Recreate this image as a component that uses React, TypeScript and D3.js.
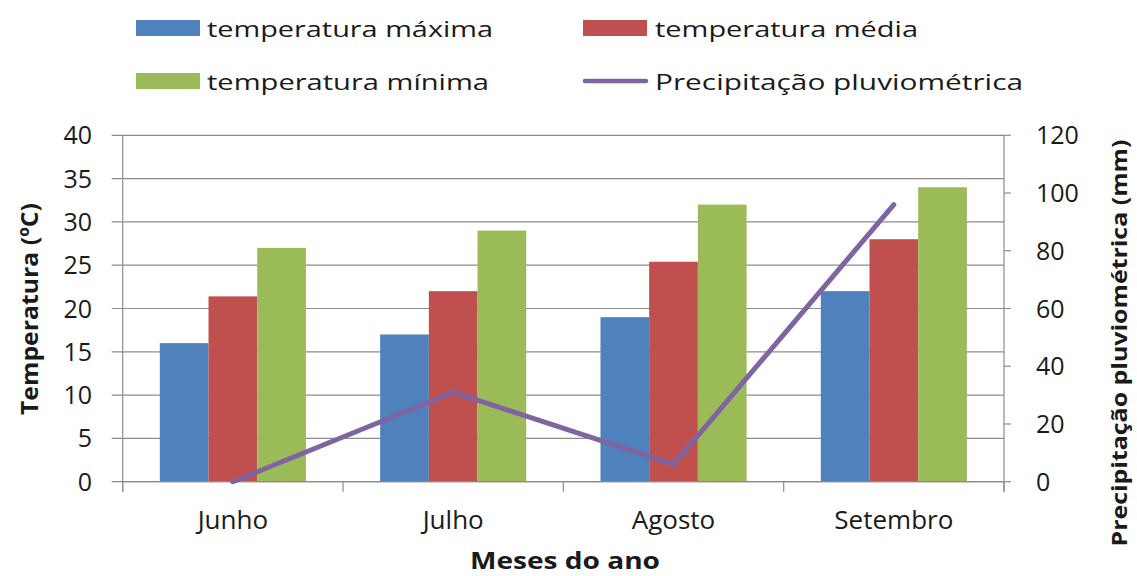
import React from "react";
import * as d3 from "d3";

const months = ["Junho", "Julho", "Agosto", "Setembro"];
const seriesNames = ["temperatura máxima", "temperatura média", "temperatura mínima"];
const tempMax = [16, 17, 19, 22];
const tempMed = [21.4, 22, 25.4, 28];
const tempMin = [27, 29, 32, 34];
const precip = [0, 31, 6, 96];
const lineName = "Precipitação pluviométrica";
const leftTicks = [0, 5, 10, 15, 20, 25, 30, 35, 40];
const rightTicks = [0, 20, 40, 60, 80, 100, 120];

const colors = ["#4F81BD", "#C0504D", "#9BBB59"];
const lineColor = "#8064A2";
const gridColor = "#8C8C8C";
const FONT = "'Open Sans', 'Noto Sans', sans-serif";

const W = 1137;
const H = 576;
const left = 122.7;
const right = 1004;
const top = 135.3;
const bottom = 481.7;

export default function App() {
  const x0 = d3
    .scaleBand<string>()
    .domain(months)
    .range([left, right])
    .paddingInner(0.337)
    .paddingOuter(0.1685);
  const x1 = d3
    .scaleBand<string>()
    .domain(seriesNames)
    .range([0, x0.bandwidth()]);
  const yL = d3.scaleLinear().domain([0, 40]).range([bottom, top]);
  const yR = d3.scaleLinear().domain([0, 120]).range([bottom, top]);
  const series = [tempMax, tempMed, tempMin];

  const step = x0.step();
  const line = d3
    .line<number>()
    .x((_, i) => (x0(months[i]) as number) + x0.bandwidth() / 2)
    .y((d) => yR(d));

  const legendItems = [
    { name: seriesNames[0], type: "rect", color: colors[0], sx: 136, tx: 207, row: 0, len: 286 },
    { name: seriesNames[1], type: "rect", color: colors[1], sx: 583, tx: 655, row: 0, len: 263 },
    { name: seriesNames[2], type: "rect", color: colors[2], sx: 136, tx: 207, row: 1, len: 282 },
    { name: lineName, type: "line", color: lineColor, sx: 583, tx: 655, row: 1, len: 368 },
  ];
  const rowY = [28, 81];

  return (
    <svg
      width={W}
      height={H}
      style={{ position: "absolute", left: 0, top: 0, background: "#fff" }}
      fontFamily={FONT}
    >
      <rect x={0} y={0} width={W} height={H} fill="#fff" />
      {leftTicks.map((t) => (
        <line
          key={"g" + t}
          x1={left - 11}
          x2={right}
          y1={yL(t)}
          y2={yL(t)}
          stroke={gridColor}
          strokeWidth={1.2}
        />
      ))}
      {rightTicks.map((t) => (
        <line
          key={"rt" + t}
          x1={right}
          x2={right + 7}
          y1={yR(t)}
          y2={yR(t)}
          stroke={gridColor}
          strokeWidth={1.2}
        />
      ))}
      {months.map((m, i) => (
        <g key={m}>
          {series.map((s, j) => (
            <rect
              key={j}
              x={(x0(m) as number) + (x1(seriesNames[j]) as number)}
              y={yL(s[i])}
              width={x1.bandwidth()}
              height={bottom - yL(s[i])}
              fill={colors[j]}
            />
          ))}
        </g>
      ))}
      <line x1={left} x2={left} y1={top} y2={bottom + 10} stroke={gridColor} strokeWidth={1.2} />
      <line x1={right} x2={right} y1={top} y2={bottom + 10} stroke={gridColor} strokeWidth={1.2} />
      <line x1={left} x2={right} y1={bottom} y2={bottom} stroke={gridColor} strokeWidth={1.2} />
      {d3.range(months.length + 1).map((k) => (
        <line
          key={"ct" + k}
          x1={left + k * step}
          x2={left + k * step}
          y1={bottom}
          y2={bottom + 10}
          stroke={gridColor}
          strokeWidth={1.2}
        />
      ))}
      <path
        d={line(precip) || ""}
        fill="none"
        stroke={lineColor}
        strokeWidth={5}
        strokeLinejoin="round"
        strokeLinecap="round"
      />
      {leftTicks.map((t) => (
        <text
          key={"lt" + t}
          x={92}
          y={yL(t)}
          dy="0.36em"
          textAnchor="end"
          fontSize={25}
          fill="#1a1a1a"
        >
          {t}
        </text>
      ))}
      {rightTicks.map((t) => (
        <text
          key={"rl" + t}
          x={1036}
          y={yR(t)}
          dy="0.36em"
          textAnchor="start"
          fontSize={25}
          fill="#1a1a1a"
        >
          {t}
        </text>
      ))}
      {months.map((m) => (
        <text
          key={"cl" + m}
          x={(x0(m) as number) + x0.bandwidth() / 2}
          y={529}
          textAnchor="middle"
          fontSize={26}
          fill="#1a1a1a"
        >
          {m}
        </text>
      ))}
      <text
        x={565}
        y={569}
        textAnchor="middle"
        fontSize={24}
        fontWeight="bold"
        fill="#1a1a1a"
        textLength={190}
        lengthAdjust="spacingAndGlyphs"
      >
        Meses do ano
      </text>
      <text
        transform={`translate(38,309) rotate(-90)`}
        textAnchor="middle"
        fontSize={24}
        fontWeight="bold"
        fill="#1a1a1a"
        textLength={212}
        lengthAdjust="spacingAndGlyphs"
      >
        Temperatura (ºC)
      </text>
      <text
        transform={`translate(1127,343) rotate(-90)`}
        textAnchor="middle"
        fontSize={22}
        fontWeight="bold"
        fill="#1a1a1a"
        textLength={407}
        lengthAdjust="spacingAndGlyphs"
      >
        Precipitação pluviométrica (mm)
      </text>
      {legendItems.map((it) => (
        <g key={it.name}>
          {it.type === "rect" ? (
            <rect x={it.sx} y={rowY[it.row] - 8} width={64} height={16} fill={it.color} />
          ) : (
            <line
              x1={it.sx + 2}
              x2={it.sx + 63}
              y1={rowY[it.row]}
              y2={rowY[it.row]}
              stroke={it.color}
              strokeWidth={4.5}
              strokeLinecap="round"
            />
          )}
          <text
            x={it.tx}
            y={rowY[it.row] + 8.5}
            fontSize={22}
            fill="#1a1a1a"
            textLength={it.len}
            lengthAdjust="spacingAndGlyphs"
          >
            {it.name}
          </text>
        </g>
      ))}
    </svg>
  );
}
